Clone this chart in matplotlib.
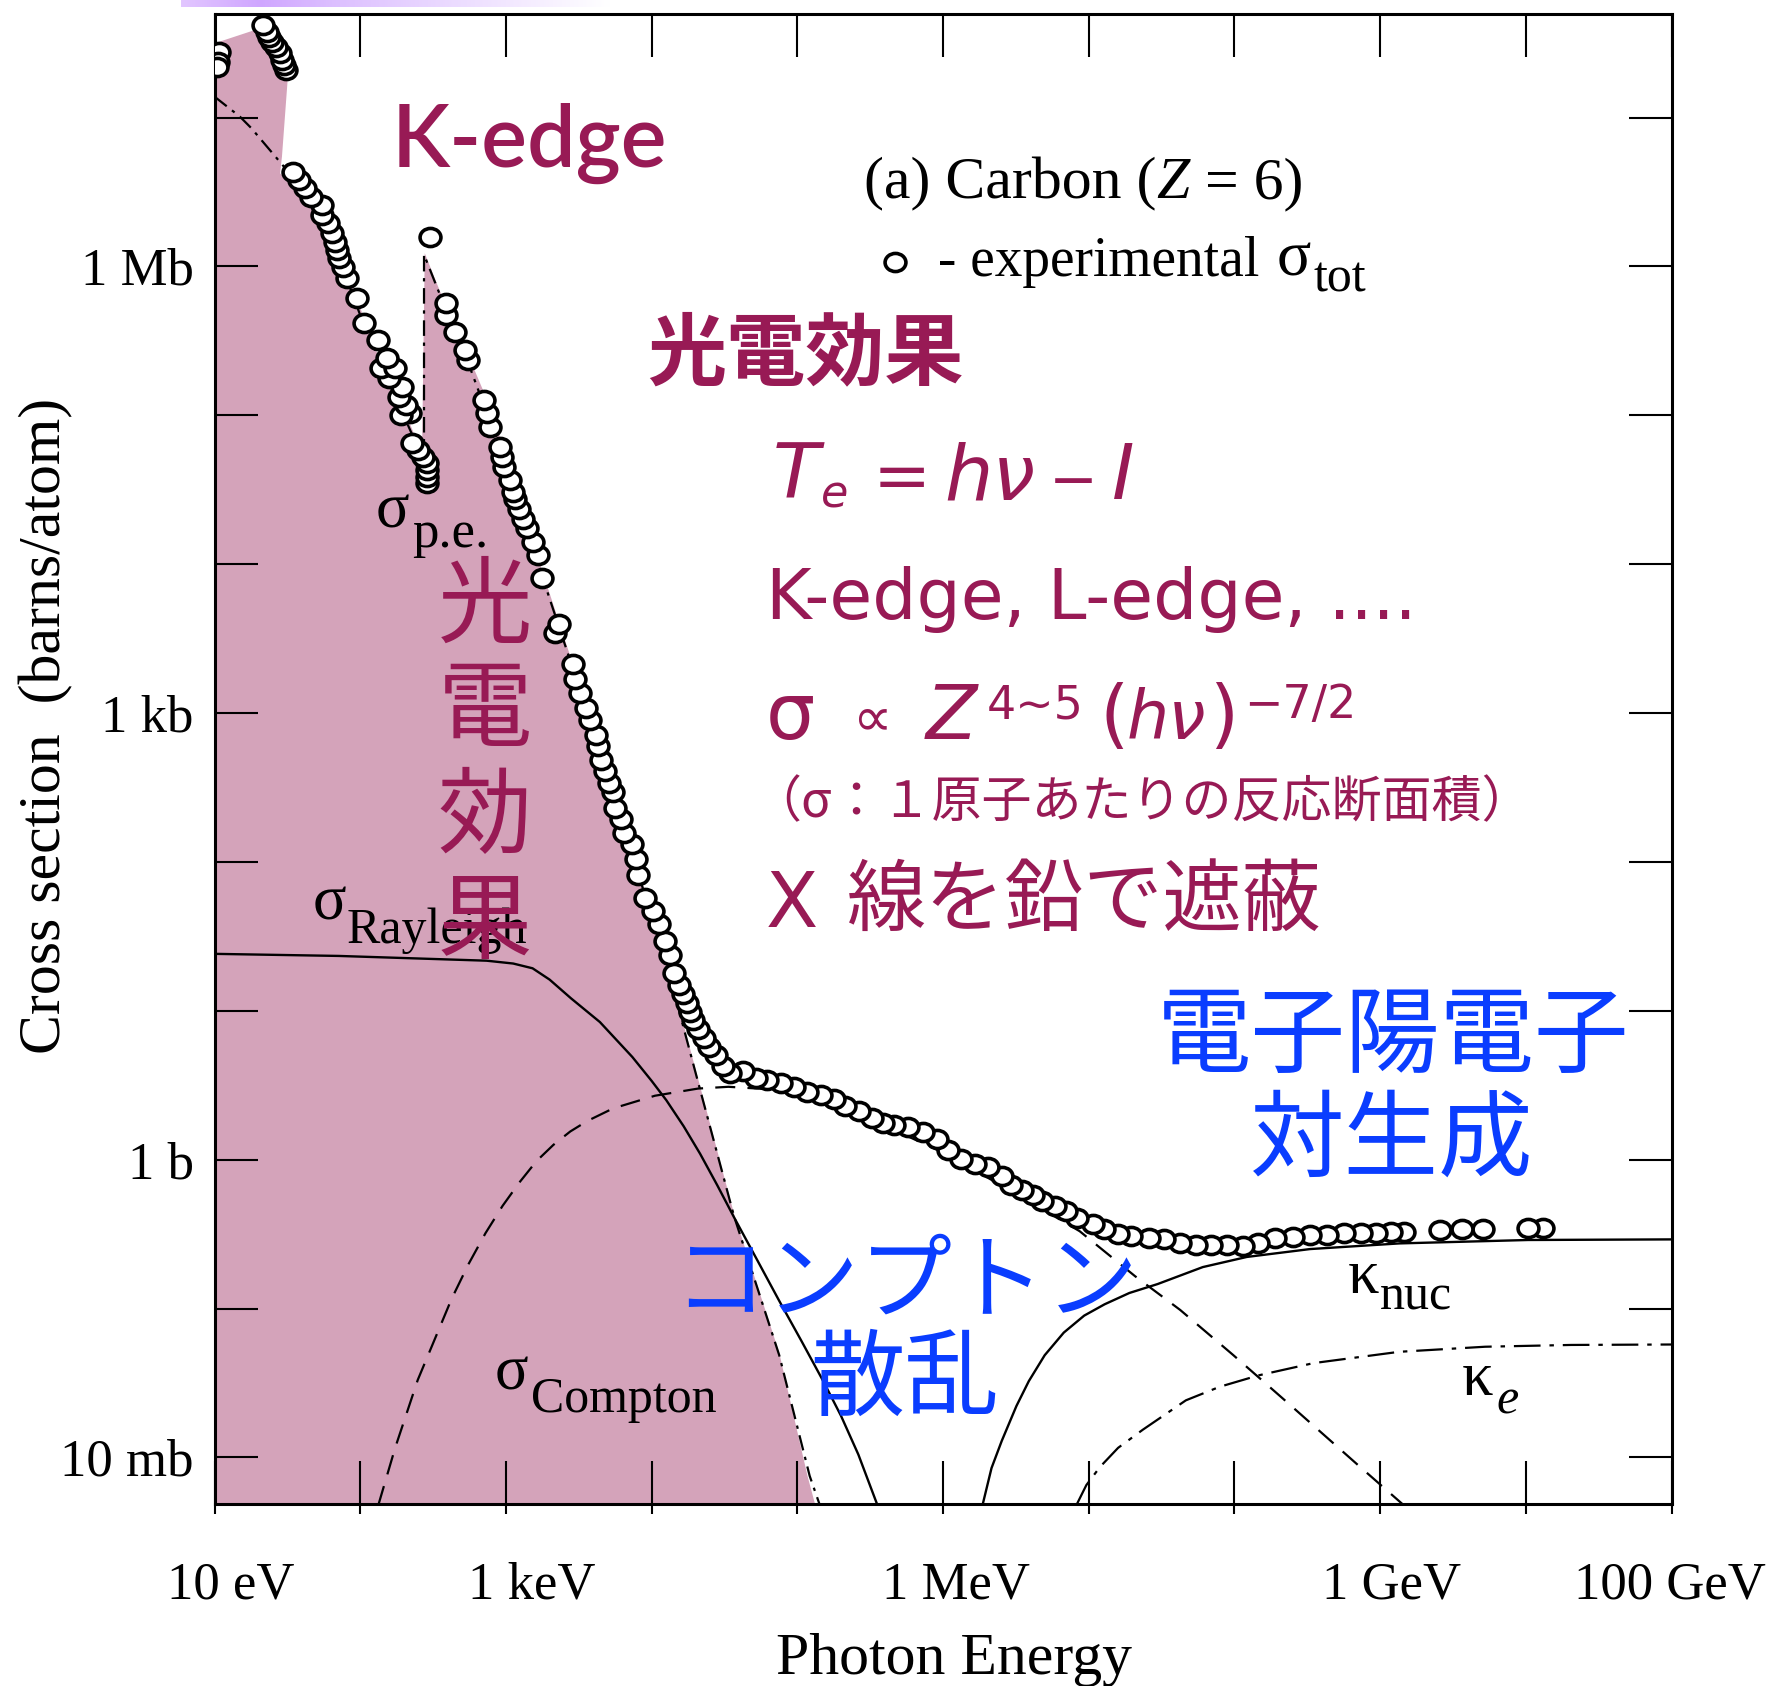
import numpy as np
import matplotlib.pyplot as plt
from matplotlib.colors import LinearSegmentedColormap
from matplotlib.lines import Line2D
from matplotlib.path import Path
from matplotlib.ticker import FixedLocator, NullLocator, NullFormatter
from matplotlib.transforms import Affine2D, ScaledTranslation

# all curves as log10(E / eV), log10(sigma / barn)

# experimental total cross section (open circles)
exp_logE = [1.016, 1.024, 1.029, 1.332, 1.357, 1.371, 1.398, 1.423, 1.450, 1.463,
            1.475, 1.489, 1.542, 1.581, 1.620, 1.660, 1.739, 1.739, 1.778, 1.804,
            1.830, 1.843, 1.857, 1.883, 1.909, 1.975, 2.027, 2.125, 2.185, 2.237,
            2.146, 2.198, 2.290, 2.264, 2.316, 2.277, 2.343, 2.356, 2.395, 2.434,
            2.460, 2.460, 2.460, 2.460, 2.481, 2.592, 2.592, 2.650, 2.716, 2.742,
            2.847, 2.868, 2.894, 2.960, 2.973, 2.986, 3.026, 3.052, 3.065, 3.091,
            3.117, 3.143, 3.183, 3.222, 3.249, 3.367, 3.340, 3.459, 3.472, 3.511,
            3.550, 3.577, 3.616, 3.629, 3.656, 3.682, 3.709, 3.735, 3.747, 3.787,
            3.813, 3.866, 3.892, 3.905, 3.957, 4.010, 4.050, 4.089, 4.129, 4.155,
            4.186, 4.217, 4.240, 4.264, 4.287, 4.318, 4.357, 4.395, 4.442, 4.488,
            4.535, 4.626, 4.717, 4.794, 4.886, 4.978, 5.070, 5.161, 5.253, 5.330,
            5.422, 5.514, 5.591, 5.667, 5.759, 5.866, 5.958, 6.035, 6.126, 6.219,
            6.310, 6.402, 6.464, 6.540, 6.616, 6.678, 6.770, 6.846, 6.922, 7.030,
            7.107, 7.198, 7.291, 7.413, 7.520, 7.628, 7.735, 7.842, 7.950, 8.057,
            8.164, 8.281, 8.399, 8.516, 8.633, 8.751, 8.868, 8.971, 9.074, 9.162,
            9.412, 9.559, 9.705, 10.014, 10.117]
exp_logsig = [7.343, 7.376, 7.443, 7.623, 7.577, 7.544, 7.510, 7.476, 7.432, 7.388,
              7.354, 7.320, 6.637, 6.581, 6.525, 6.469, 6.414, 6.346, 6.290, 6.223,
              6.167, 6.111, 6.055, 5.999, 5.921, 5.786, 5.619, 5.506, 5.383, 5.316,
              5.316, 5.248, 5.193, 5.126, 5.069, 5.003, 5.013, 4.812, 4.768, 4.723,
              4.678, 4.633, 4.589, 4.544, 6.196, 5.753, 5.674, 5.562, 5.439, 5.372,
              5.104, 5.014, 4.924, 4.790, 4.723, 4.655, 4.566, 4.488, 4.435, 4.371,
              4.306, 4.243, 4.152, 4.062, 3.908, 3.599, 3.536, 3.330, 3.227, 3.137,
              3.034, 2.957, 2.855, 2.777, 2.687, 2.610, 2.533, 2.468, 2.366, 2.289,
              2.198, 2.122, 2.019, 1.916, 1.761, 1.672, 1.582, 1.466, 1.376, 1.252,
              1.176, 1.115, 1.054, 0.994, 0.941, 0.880, 0.819, 0.759, 0.705, 0.630,
              0.584, 0.596, 0.549, 0.538, 0.514, 0.491, 0.455, 0.432, 0.408, 0.361,
              0.325, 0.278, 0.244, 0.231, 0.220, 0.184, 0.137, 0.067, 0.008, -0.028,
              -0.052, -0.110, -0.169, -0.205, -0.240, -0.275, -0.310, -0.346, -0.393, -0.429,
              -0.463, -0.499, -0.511, -0.523, -0.534, -0.558, -0.570, -0.570, -0.570, -0.581,
              -0.557, -0.528, -0.517, -0.506, -0.506, -0.495, -0.495, -0.490, -0.483, -0.483,
              -0.472, -0.467, -0.467, -0.460, -0.457]

# photoelectric (dash-dot), with the K-edge step
pe_logE = [1.000, 1.174, 1.253, 1.476, 1.659, 1.853, 2.023, 2.202, 2.357, 2.438,
           2.438, 2.600, 2.750, 2.938, 3.093, 3.248, 3.403, 3.597, 3.791, 3.984,
           4.178, 4.333, 4.566, 4.876, 5.085, 5.155]
pe_logsig = [7.141, 7.007, 6.929, 6.671, 6.440, 6.061, 5.613, 5.211, 4.870, 4.830,
             6.080, 5.680, 5.330, 4.832, 4.377, 3.922, 3.466, 2.897, 2.291, 1.684,
             1.039, 0.470, -0.380, -1.313, -2.124, -2.321]

# pink shaded photo-effect region
shade_logE = [1.000, 1.000, 1.279, 1.502, 1.463, 1.450, 1.542, 1.739, 1.922, 2.106,
              2.237, 2.368, 2.426, 2.443, 2.553, 2.736, 2.920, 3.078, 3.248, 3.403,
              3.597, 3.791, 3.984, 4.178, 4.333, 4.566, 4.876, 5.070, 5.124, 5.150]
shade_logsig = [-2.5, 7.499, 7.589, 7.253, 6.738, 6.626, 6.536, 6.357, 5.932, 5.439,
                5.193, 4.880, 4.857, 6.089, 5.820, 5.417, 4.991, 4.432, 3.960, 3.497,
                2.928, 2.321, 1.714, 1.062, 0.493, -0.364, -1.297, -2.124, -2.321, -2.5]

# Rayleigh (solid)
ray_logE = [1.000, 1.853, 2.868, 3.050, 3.183, 3.300, 3.446, 3.645, 3.868, 4.000,
            4.101, 4.220, 4.333, 4.450, 4.566, 4.720, 4.876, 5.030, 5.178, 5.300,
            5.419, 5.550]
ray_logsig = [1.383, 1.369, 1.337, 1.318, 1.286, 1.210, 1.085, 0.925, 0.690, 0.530,
              0.400, 0.225, 0.040, -0.170, -0.387, -0.665, -0.948, -1.220, -1.487, -1.720,
              -1.980, -2.320]

# Compton (dashed)
comp_logE = [2.124, 2.240, 2.395, 2.628, 2.744, 2.860, 2.977, 3.093, 3.209, 3.326,
             3.442, 3.558, 3.736, 4.023, 4.318, 4.527, 4.953, 5.419, 6.008, 6.504,
             6.938, 7.318, 7.628, 7.992, 8.364, 8.837, 9.163]
comp_logsig = [-2.321, -1.935, -1.479, -0.933, -0.700, -0.493, -0.310, -0.152, -0.010, 0.100,
               0.190, 0.260, 0.345, 0.430, 0.478, 0.490, 0.465, 0.310, 0.045, -0.230,
               -0.480, -0.782, -1.009, -1.312, -1.631, -2.041, -2.321]

# pair production, nuclear field (solid)
nuc_logE = [6.271, 6.333, 6.403, 6.504, 6.589, 6.698, 6.829, 6.969, 7.109, 7.279,
            7.473, 7.783, 8.085, 8.519, 9.132, 10.016, 11.000]
nuc_logsig = [-2.321, -2.071, -1.889, -1.654, -1.487, -1.313, -1.161, -1.047, -0.971, -0.895,
              -0.835, -0.721, -0.653, -0.600, -0.562, -0.539, -0.535]

# pair production, electron field (dash-dot)
kel_logE = [6.915, 6.984, 7.078, 7.202, 7.372, 7.667, 7.899, 8.163, 8.543, 9.132,
            9.721, 10.310, 11.000]
kel_logsig = [-2.321, -2.185, -2.063, -1.935, -1.813, -1.616, -1.525, -1.449, -1.366, -1.290,
              -1.256, -1.244, -1.241]

x_tick_exp = list(range(1, 12))
x_tick_text = ['10 eV', '', '1 keV', '', '', '1 MeV', '', '', '1 GeV', '', '100 GeV']
x_tick_shift = [16, 0, 26, 0, 0, 12.6, 0, 0, 11.4, 0, -1.7]   # px
y_tick_exp = list(range(-2, 8))
y_tick_text = ['10 mb', '', '1 b', '', '', '1 kb', '', '', '1 Mb', '']

SERIF = ['Liberation Serif', 'DejaVu Serif']
SANS = ['DejaVu Sans']
CJK = ['Noto Sans CJK JP', 'DejaVu Sans']
PURPLE = '#981a55'
BLUE = '#0a3dff'
PINK = '#d4a3ba'

plt.rcParams['font.family'] = SERIF

W, H = 1771, 1686
fig = plt.figure(figsize=(W / 100, H / 100), dpi=100)
ax = fig.add_axes([214.5 / W, 1 - 1503.5 / H, 1457 / W, 1489.5 / H])
ax.set_xscale('log')
ax.set_yscale('log')
ax.set_xlim(1e1, 1e11)
ax.set_ylim(10 ** -2.309, 10 ** 7.696)


def tp(a):
    return 10.0 ** np.asarray(a)


# the open symbols are slightly wider than tall in the original
ring = Path.unit_circle().transformed(Affine2D().scale(1.15, 1.0))

ax.fill(tp(shade_logE), tp(shade_logsig), color=PINK, lw=0, zorder=0)
ax.plot(tp(pe_logE), tp(pe_logsig), color='k', lw=1.6, ls=(0, (7, 3, 1.5, 3)), zorder=2)
ax.plot(tp(ray_logE), tp(ray_logsig), color='k', lw=1.7, zorder=2)
ax.plot(tp(comp_logE), tp(comp_logsig), color='k', lw=1.6, ls=(0, (9, 5.5)), zorder=2)
ax.plot(tp(nuc_logE), tp(nuc_logsig), color='k', lw=1.7, zorder=2)
ax.plot(tp(kel_logE), tp(kel_logsig), color='k', lw=1.6, ls=(0, (12, 4, 2, 4)), zorder=2)
ax.plot(tp(exp_logE)[::-1], tp(exp_logsig)[::-1], ls='none', marker=ring, ms=15,
        mfc='white', mec='black', mew=2.6, zorder=4)

ax.set_xticks(tp(x_tick_exp), x_tick_text)
ax.set_yticks(tp(y_tick_exp), y_tick_text)
ax.xaxis.set_minor_locator(FixedLocator(tp(x_tick_exp)))
ax.xaxis.set_minor_formatter(NullFormatter())
ax.xaxis.remove_overlapping_locs = False
ax.yaxis.set_minor_locator(NullLocator())
ax.tick_params(which='major', direction='in', length=31, width=1.5, top=True, right=True)
ax.tick_params(axis='x', which='major', labelsize=38, pad=42)
ax.tick_params(axis='y', which='major', labelsize=38, pad=15)
ax.tick_params(axis='x', which='minor', direction='out', length=7, width=1.5,
               top=False, bottom=True)
for sp in ax.spines.values():
    sp.set_linewidth(2.2)
for lab, dx in zip(ax.get_xticklabels(), x_tick_shift):
    lab.set_transform(lab.get_transform() + ScaledTranslation(dx / 100, 0, fig.dpi_scale_trans))

ax.set_xlabel('Photon Energy', fontsize=43, va='baseline')
ax.xaxis.set_label_coords((954 - 214.5) / 1457, (1503.5 - 1674) / 1489.5)
ax.set_ylabel('Cross section  (barns/atom)', fontsize=43, va='center')
ax.yaxis.set_label_coords((46.7 - 214.5) / 1457, (1503.5 - 726) / 1489.5)

# lavender strip at the top
cmap = LinearSegmentedColormap.from_list(
    'bar', [(0, '#e2c6ff'), (0.18, '#cfa6ff'), (0.35, '#dcbfff'), (1, '#ffffff')])
gax = fig.add_axes([181 / W, 1 - 7.5 / H, 430 / W, 7.5 / H])
gax.imshow(np.linspace(0, 1, 200)[None, :], cmap=cmap, aspect='auto')
gax.axis('off')


def put(x, y, s, size, color='black', family=SERIF, **kw):
    kw.setdefault('ha', 'left')
    kw.setdefault('va', 'baseline')
    return fig.text(x / W, 1 - y / H, s, fontsize=size, color=color, family=family, **kw)


# serif annotations
put(864, 198, '(a) Carbon (', 43)
put(1156, 198, 'Z', 43, style='italic')
put(1205, 198, '= 6)', 43)
fig.add_artist(Line2D([895 / W], [1 - 262 / H], marker=ring, ms=15, mfc='white',
                      mec='black', mew=2.6, ls='none', transform=fig.transFigure))
put(937.5, 276, '- experimental', 40)
put(1277, 276, 'σ', 46)
put(1313, 292, 'tot', 36)
put(376, 528, 'σ', 45)
put(412, 547, 'p.e.', 38)
put(313, 920, 'σ', 45)
put(347, 943, 'Rayleigh', 36)
put(495, 1389, 'σ', 45)
put(531, 1412, 'Compton', 36)
put(1348, 1293, 'κ', 45)
put(1380, 1310, 'nuc', 36)
put(1462, 1395, 'κ', 45)
put(1496, 1413, 'e', 36, style='italic')

# purple notes
put(392, 167, 'K-edge', 62, PURPLE, ['Lato', 'DejaVu Sans'], weight=600)
put(647, 355, '光電効果', 57, PURPLE, CJK, va='center', weight='bold')
put(773, 499, 'T', 55, PURPLE, SANS, style='italic')
put(821, 508, 'e', 32, PURPLE, SANS, style='italic')
put(873, 499, '=', 50, PURPLE, SANS)
put(944, 499, 'hν', 55, PURPLE, SANS, style='italic')
put(1049, 499, '−', 42, PURPLE, SANS)
put(1112, 499, 'I', 55, PURPLE, SANS, style='italic')
put(765.5, 618.6, 'K-edge, L-edge, ....', 50, PURPLE, SANS)
put(765.5, 739, 'σ', 56, PURPLE, SANS)
put(852, 735, '∝', 40, PURPLE, SANS)
put(926, 739, 'Z', 54, PURPLE, SANS, style='italic')
put(987, 718, '4~5', 33, PURPLE, SANS)
put(1100, 739, '(', 54, PURPLE, SANS)
put(1127, 739, 'hν', 48, PURPLE, SANS, style='italic')
put(1209, 739, ')', 54, PURPLE, SANS)
put(1244, 718, '−7/2', 33, PURPLE, SANS)
put(751, 803, '（σ：１原子あたりの反応断面積）', 36, PURPLE, CJK, va='center')
put(765.5, 927, 'X', 55, PURPLE, SANS)
put(847, 902, '線を鉛で遮蔽', 57, PURPLE, CJK, va='center')
for ch, yc in zip('光電効果', [608, 712, 819, 924]):
    put(485, yc, ch, 68, PURPLE, CJK, ha='center', va='center')

# blue notes
put(1393, 1038, '電子陽電子', 68, BLUE, CJK, ha='center', va='center')
put(1392, 1142, '対生成', 68, BLUE, CJK, ha='center', va='center')
put(906, 1284, 'コンプトン', 67, BLUE, CJK, ha='center', va='center')
put(905, 1381, '散乱', 68, BLUE, CJK, ha='center', va='center')

fig.savefig('out.png', dpi=100)
